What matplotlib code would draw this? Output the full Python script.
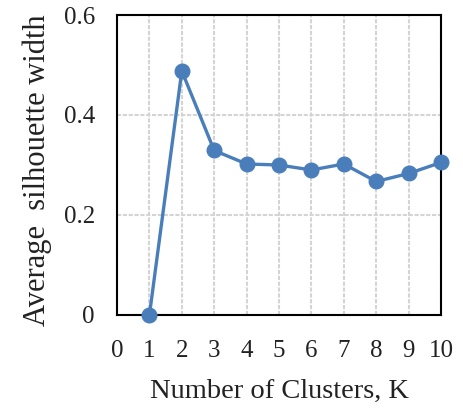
import matplotlib
matplotlib.use("Agg")
import matplotlib.pyplot as plt

k = [1, 2, 3, 4, 5, 6, 7, 8, 9, 10]
sil = [0.0, 0.488, 0.329, 0.302, 0.300, 0.290, 0.302, 0.267, 0.283, 0.305]
xticks = list(range(0, 11))
yticks = [0, 0.2, 0.4, 0.6]
ytick_labels = ["0", "0.2", "0.4", "0.6"]

plt.rcParams['font.family'] = ['Liberation Serif', 'DejaVu Serif']

fig = plt.figure(figsize=(4.64, 4.11), dpi=100)
ax = fig.add_axes([0.2522, 0.2336, 0.6982, 0.7299])

ax.plot(k, sil, color='#4a7ebb', lw=2.4, marker='o', markersize=10.5, zorder=3, clip_on=False)

ax.set_xlim(0, 10)
ax.set_ylim(0, 0.6)
ax.set_xticks(xticks)
ax.set_yticks(yticks)
ax.set_yticklabels(ytick_labels)
ax.tick_params(axis='y', length=0, labelsize=18, pad=16, colors='#222222')
ax.tick_params(axis='x', length=0, labelsize=18, pad=18, colors='#222222')
ax.grid(True, color='#d4d4d4', lw=1.5, ls=(0, (2, 0.8)))
ax.set_axisbelow(True)
for s in ax.spines.values():
    s.set_linewidth(1.5)
    s.set_color('black')

ax.set_xlabel("Number of Clusters, K", fontsize=20.5, labelpad=12, color='#222222')
ax.set_ylabel("Average  silhouette width", fontsize=22, color='#222222')
ax.yaxis.set_label_coords(-0.20, 0.483)

fig.savefig("out.png", dpi=100)
